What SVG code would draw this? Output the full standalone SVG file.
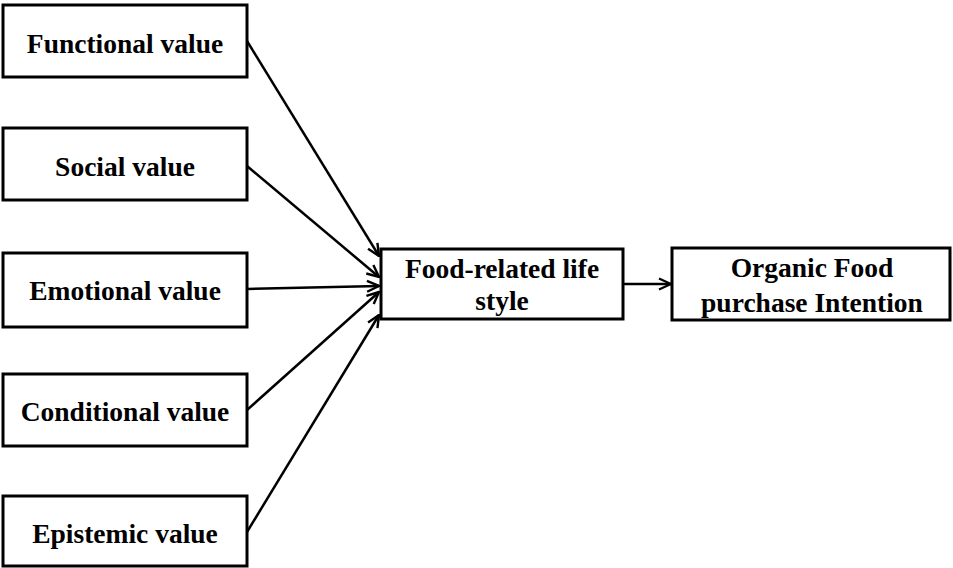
<svg xmlns="http://www.w3.org/2000/svg" width="953" height="568" viewBox="0 0 953 568">
  <style>
    .box { fill: #fff; stroke: #000; stroke-width: 3; }
    .lbl { font-family: "Liberation Serif", "Times New Roman", serif; font-weight: bold; font-size: 27.5px; fill: #000; text-anchor: middle; }
    .edge { stroke: #000; stroke-width: 2.5; fill: none; marker-end: url(#arrow); }
  </style>
  <defs>
    <marker id="arrow" viewBox="0 0 14 14" refX="13" refY="7" markerWidth="14" markerHeight="14" markerUnits="userSpaceOnUse" orient="auto">
      <polyline points="1,1.5 13,7 1,12.5" fill="none" stroke="#000" stroke-width="2.4"/>
    </marker>
  </defs>
  <rect width="953" height="568" fill="#fff"/>

  <g id="connectors">
    <line class="edge" x1="247" y1="41" x2="379" y2="256"/>
    <line class="edge" x1="247" y1="166" x2="379" y2="277"/>
    <line class="edge" x1="247" y1="289" x2="379" y2="286"/>
    <line class="edge" x1="247" y1="410" x2="379" y2="292"/>
    <line class="edge" x1="247" y1="532" x2="379" y2="315"/>
    <line class="edge" x1="623" y1="284" x2="671" y2="284"/>
  </g>

  <g id="functional">
    <rect class="box" x="3" y="5" width="244" height="72"/>
    <text class="lbl" x="125" y="53">Functional value</text>
  </g>
  <g id="social">
    <rect class="box" x="3" y="128" width="244" height="72"/>
    <text class="lbl" x="125" y="176">Social value</text>
  </g>
  <g id="emotional">
    <rect class="box" x="3" y="253" width="244" height="74"/>
    <text class="lbl" x="125" y="300">Emotional value</text>
  </g>
  <g id="conditional">
    <rect class="box" x="3" y="374" width="244" height="72"/>
    <text class="lbl" x="125" y="421">Conditional value</text>
  </g>
  <g id="epistemic">
    <rect class="box" x="3" y="496" width="244" height="70"/>
    <text class="lbl" x="125" y="543">Epistemic value</text>
  </g>
  <g id="lifestyle">
    <rect class="box" x="381" y="249" width="242" height="70"/>
    <text class="lbl" x="502" y="278">Food-related life</text>
    <text class="lbl" x="502" y="310">style</text>
  </g>
  <g id="intention">
    <rect class="box" x="672" y="248" width="278" height="72"/>
    <text class="lbl" x="812" y="277">Organic Food</text>
    <text class="lbl" x="812" y="312">purchase Intention</text>
  </g>
</svg>
